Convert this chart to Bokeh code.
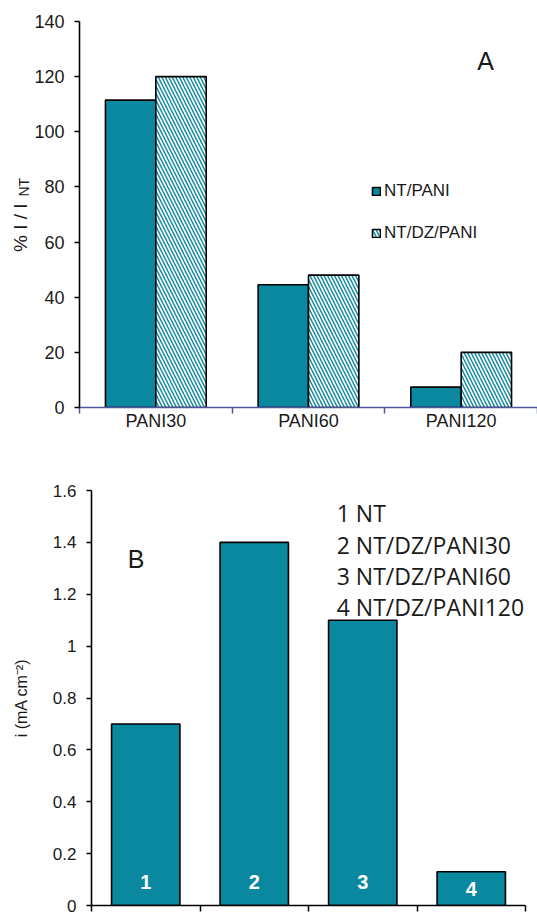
import math
from bokeh.plotting import figure
from bokeh.models import (Range1d, FixedTicker, LinearAxis, Label, Legend, LegendItem,
                          ColumnDataSource, NumeralTickFormatter)
from bokeh.transform import dodge
from bokeh.embed import file_html
from bokeh.resources import INLINE
from bokeh.core.properties import value

# ---------------- Panel A data ----------------
categories_a = ["PANI30", "PANI60", "PANI120"]
series_a = ["NT/PANI", "NT/DZ/PANI"]
nt_pani = [111.5, 44.5, 7.4]
nt_dz_pani = [120.0, 48.0, 20.0]
yticks_a = [0, 20, 40, 60, 80, 100, 120, 140]

# ---------------- Panel B data ----------------
bar_ids_b = ["1", "2", "3", "4"]
samples_b = ["NT", "NT/DZ/PANI30", "NT/DZ/PANI60", "NT/DZ/PANI120"]
current_b = [0.70, 1.40, 1.10, 0.13]
yticks_b = [0, 0.2, 0.4, 0.6, 0.8, 1.0, 1.2, 1.4, 1.6]

TEAL = "#0a889f"
AXIS_A = "#50549a"
FONT = "Liberation Sans"
TXT = "#1a1a1a"
NBSP = "\u00a0"


def style_axis(ax, color="black"):
    ax.axis_line_color = color
    ax.axis_line_width = 1.6
    ax.major_tick_line_color = color
    ax.major_tick_line_width = 1.5
    ax.major_tick_in = 0
    ax.major_tick_out = 5
    ax.minor_tick_in = 0
    ax.minor_tick_out = 0
    ax.major_label_text_font = FONT
    ax.major_label_text_font_size = "18px"
    ax.major_label_text_color = TXT
    ax.major_label_standoff = 10


def title_axis(text, size, standoff):
    """An axis with no line/ticks, used only to draw a vertical title part."""
    ax = LinearAxis(ticker=FixedTicker(ticks=[]), axis_label=text)
    ax.axis_line_color = None
    ax.major_tick_line_color = None
    ax.minor_tick_line_color = None
    ax.major_tick_out = 0
    ax.minor_tick_out = 0
    ax.major_label_standoff = 0
    ax.axis_label_text_font = FONT
    ax.axis_label_text_font_size = size
    ax.axis_label_text_font_style = "normal"
    ax.axis_label_text_color = TXT
    ax.axis_label_standoff = standoff
    return ax


# ================= Panel A =================
n_a = len(categories_a)
centers_a = [i + 0.5 for i in range(n_a)]
bounds_a = [float(i) for i in range(n_a + 1)]

pa = figure(width=537, height=468, output_backend="svg", toolbar_location=None,
            x_range=Range1d(0, n_a), y_range=Range1d(0, 140),
            x_axis_type=None, y_axis_type=None,
            min_border_left=79, min_border_right=0, min_border_top=21, min_border_bottom=61)
pa.outline_line_color = None
pa.background_fill_color = "white"
pa.border_fill_color = "white"

ya = LinearAxis(ticker=FixedTicker(ticks=yticks_a))
style_axis(ya)
pa.add_layout(ya, "left")
# y title "% I / I" with subscript "NT" (non-breaking spaces shift each part along the axis)
pa.add_layout(title_axis(NBSP * 14 + "NT", "14px", 0), "left")
pa.add_layout(title_axis("% I / I" + NBSP * 5, "19px", -18), "left")

xa = LinearAxis(ticker=FixedTicker(ticks=centers_a, minor_ticks=bounds_a),
                major_label_overrides={c: name for c, name in zip(centers_a, categories_a)})
style_axis(xa, AXIS_A)
xa.major_tick_line_color = None
xa.major_tick_out = 0
xa.minor_tick_line_color = AXIS_A
xa.minor_tick_line_width = 1.5
xa.minor_tick_out = 6
xa.major_label_standoff = -3
pa.add_layout(xa, "below")

src_a = ColumnDataSource(dict(x=centers_a, nt=nt_pani, dz=nt_dz_pani))
r1 = pa.vbar(x=dodge("x", -0.165), top="nt", width=0.33, source=src_a,
             fill_color=TEAL, line_color="black", line_width=1.6)
r2 = pa.vbar(x=dodge("x", 0.165), top="dz", width=0.33, source=src_a,
             fill_color=TEAL, line_color="black", line_width=1.6,
             hatch_pattern="\\", hatch_color="white", hatch_weight=1.7, hatch_scale=7)

legend = Legend(items=[LegendItem(label=series_a[0], renderers=[r1]),
                       LegendItem(label=series_a[1], renderers=[r2])],
                location=(292, 164), glyph_width=10, glyph_height=10, spacing=22,
                label_text_font=FONT, label_text_font_size="17px", label_text_color=TXT,
                label_standoff=3, border_line_color=None, background_fill_alpha=0,
                padding=0, margin=0)
pa.add_layout(legend)

pa.add_layout(Label(x=2.66, y=125.5, text="A", text_font=FONT, text_font_size="25px",
                    text_color=TXT, text_align="center", text_baseline="middle"))

# ================= Panel B =================
n_b = len(current_b)
centers_b = [i + 0.5 for i in range(n_b)]
bounds_b = [float(i) for i in range(n_b + 1)]

pb = figure(width=537, height=448, output_backend="svg", toolbar_location=None,
            x_range=Range1d(0, n_b), y_range=Range1d(0, 1.6),
            x_axis_type=None, y_axis_type=None,
            min_border_left=91, min_border_right=12, min_border_top=22, min_border_bottom=11)
pb.outline_line_color = None
pb.background_fill_color = "white"
pb.border_fill_color = "white"

yb = LinearAxis(ticker=FixedTicker(ticks=yticks_b), formatter=NumeralTickFormatter(format="0.[0]"),
                axis_label="i (mA cm\u207b\u00b2)")
style_axis(yb)
yb.major_label_text_font_size = "17px"
yb.axis_label_text_font = FONT
yb.axis_label_text_font_size = "16px"
yb.axis_label_text_font_style = "normal"
yb.axis_label_text_color = TXT
yb.axis_label_standoff = 20
pb.add_layout(yb, "left")

# category boundary ticks only (no labels in the reference)
xb = LinearAxis(ticker=FixedTicker(ticks=[], minor_ticks=bounds_b))
style_axis(xb)
xb.minor_tick_line_color = "black"
xb.minor_tick_line_width = 1.5
xb.minor_tick_out = 6
xb.major_label_standoff = 0
pb.add_layout(xb, "below")

src_b = ColumnDataSource(dict(x=centers_b, top=current_b, ids=bar_ids_b,
                              ly=[min(0.09, v / 2) for v in current_b]))
pb.vbar(x="x", top="top", width=0.63, source=src_b,
        fill_color=TEAL, line_color="black", line_width=1.6)
pb.text(x="x", y="ly", text="ids", source=src_b, text_color="white",
        text_font=value(FONT), text_font_style="bold", text_font_size="20px",
        text_align="center", text_baseline="middle")

legend_lines = [f"{i} {s}" for i, s in zip(bar_ids_b, samples_b)]
src_leg = ColumnDataSource(dict(t=legend_lines, off=[31.2 * i for i in range(n_b)]))
pb.text(x=2.26, y=1.512, y_offset="off", text="t", source=src_leg,
        text_font=value("Open Sans"), text_font_size="23px", text_color=TXT,
        text_align="left", text_baseline="alphabetic")

pb.add_layout(Label(x=0.41, y=1.334, text="B", text_font=FONT, text_font_size="25px",
                    text_color=TXT, text_align="center", text_baseline="middle"))

# two separate roots, stacked, so that each panel keeps its own frame borders
open("out.html", "w").write(file_html([pa, pb], INLINE))
